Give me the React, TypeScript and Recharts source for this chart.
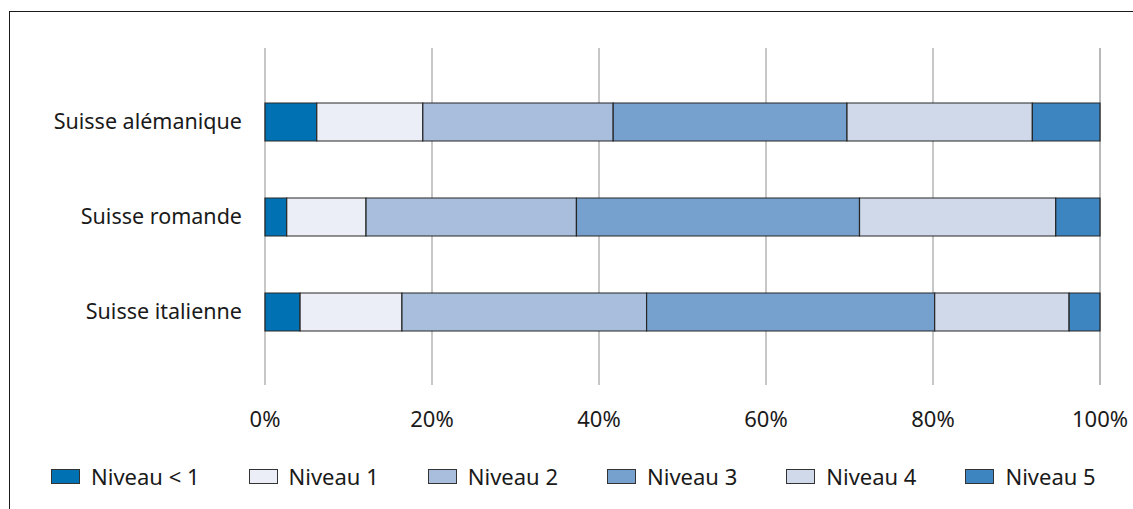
import React from "react";
import { BarChart, Bar, XAxis, YAxis, CartesianGrid } from "recharts";

const categories = ["Suisse alémanique", "Suisse romande", "Suisse italienne"];
const niveauMoins1 = [6.2, 2.6, 4.2];
const niveau1 = [12.7, 9.5, 12.2];
const niveau2 = [22.8, 25.2, 29.3];
const niveau3 = [28.0, 33.9, 34.5];
const niveau4 = [22.2, 23.5, 16.1];
const niveau5 = [8.1, 5.3, 3.7];
const xTicks = [0, 20, 40, 60, 80, 100];

const seriesNames = ["Niveau < 1", "Niveau 1", "Niveau 2", "Niveau 3", "Niveau 4", "Niveau 5"];
const seriesKeys = ["n0", "n1", "n2", "n3", "n4", "n5"];
const seriesColors = ["#0072b4", "#ebeef7", "#a9bedd", "#76a1ce", "#cfd9ea", "#3d85c0"];
const seriesValues = [niveauMoins1, niveau1, niveau2, niveau3, niveau4, niveau5];

const data = categories.map((c, i) => {
  const row: Record<string, string | number> = { region: c };
  seriesKeys.forEach((k, j) => {
    row[k] = seriesValues[j][i];
  });
  return row;
});

const FONT = "'Noto Sans', sans-serif";

export default function App() {
  return (
    <div style={{ position: "absolute", left: 0, top: 0, width: 1133, height: 509, background: "#fff", overflow: "hidden", fontFamily: FONT }}>
      <div
        style={{
          position: "absolute",
          left: 9,
          top: 11,
          width: 1124,
          height: 498,
          borderTop: "1.5px solid #1a1a1a",
          borderLeft: "1.5px solid #1a1a1a",
          boxSizing: "border-box",
        }}
      />
      <div style={{ position: "absolute", left: 0, top: 0 }}>
        <BarChart
          width={1133}
          height={509}
          data={data}
          layout="vertical"
          margin={{ top: 48, right: 33, bottom: 84, left: 65 }}
        >
          <CartesianGrid horizontal={false} stroke="#b4b4b4" strokeWidth={1.5} />
          <XAxis
            type="number"
            domain={[0, 100]}
            ticks={xTicks}
            tickFormatter={(v: number) => `${v}%`}
            axisLine={false}
            tickLine={false}
            tickSize={0}
            tickMargin={26}
            height={40}
            interval={0}
            tick={{ fill: "#1a1a1a", fontSize: 22, fontFamily: FONT }}
          />
          <YAxis
            type="category"
            dataKey="region"
            width={200}
            axisLine={false}
            tickLine={false}
            tickSize={0}
            tickMargin={23}
            padding={{ top: 26, bottom: 26 }}
            tick={{ fill: "#1a1a1a", fontSize: 21.5, fontFamily: FONT }}
          />
          {seriesKeys.map((k, j) => (
            <Bar
              key={k}
              dataKey={k}
              name={seriesNames[j]}
              stackId="a"
              fill={seriesColors[j]}
              stroke="#262626"
              strokeWidth={1.2}
              barSize={38}
              isAnimationActive={false}
            />
          ))}
        </BarChart>
      </div>
      <div
        style={{
          position: "absolute",
          left: 51,
          top: 463,
          display: "flex",
          alignItems: "center",
          gap: 49,
          fontFamily: FONT,
          fontSize: 22,
          color: "#1a1a1a",
          whiteSpace: "nowrap",
        }}
      >
        {seriesNames.map((n, j) => (
          <div key={n} style={{ display: "flex", alignItems: "center" }}>
            <div
              style={{
                width: 29,
                height: 15,
                boxSizing: "border-box",
                background: seriesColors[j],
                border: "1.5px solid #333",
                marginRight: 11,
              }}
            />
            <span style={{ lineHeight: "26px" }}>{n}</span>
          </div>
        ))}
      </div>
    </div>
  );
}
